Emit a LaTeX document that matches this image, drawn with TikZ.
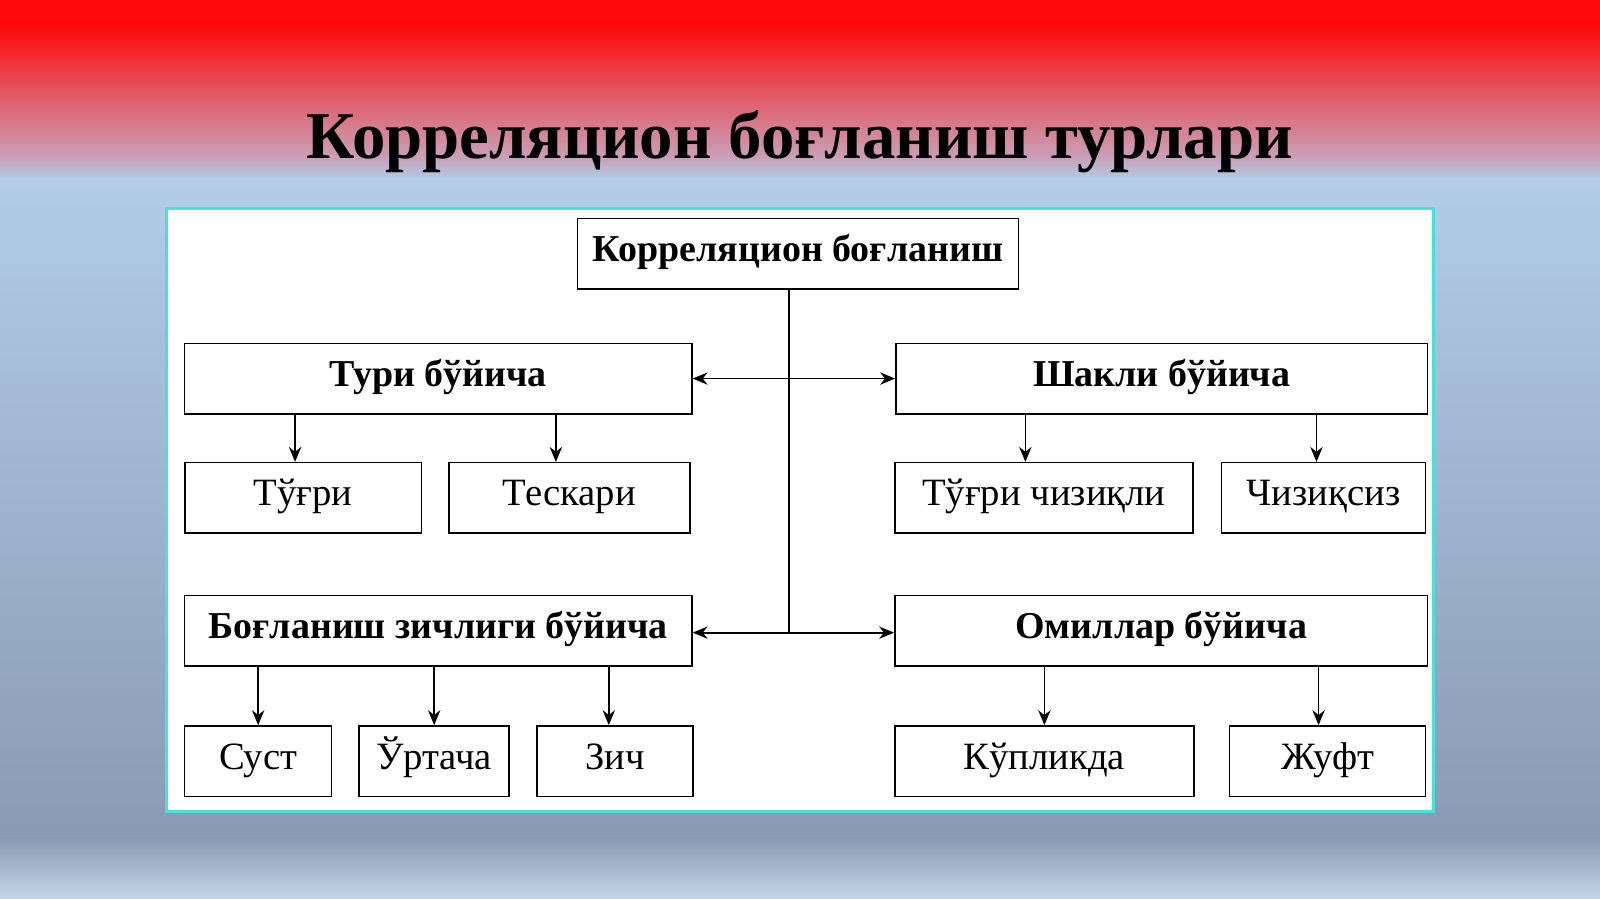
\documentclass[tikz,border=0pt]{standalone}
\usepackage{fontspec}
\setmainfont{Liberation Serif}
\usetikzlibrary{arrows.meta}
\definecolor{slidered}{HTML}{FF0A0A}
\definecolor{slidepink}{HTML}{C8A2BA}
\definecolor{slideblue}{HTML}{B2CCE8}
\definecolor{slidegrey}{HTML}{8A9AB2}
\definecolor{slidelight}{HTML}{C4D4E8}
\definecolor{panelrim}{HTML}{48E0D8}
\tikzset{
  box/.style={draw=black, line width=0.9pt, fill=white, minimum height=1.41cm, inner sep=0pt, text height=0.55cm, text depth=0.23cm, font=\fontsize{22}{25}\selectfont},
  headbox/.style={box, font=\fontsize{21.6}{25}\selectfont\bfseries},
  link/.style={line width=1pt, -{Stealth[length=8.5pt,width=7pt]}},
  biglink/.style={line width=1pt, {Stealth[length=8.5pt,width=7pt]}-{Stealth[length=8.5pt,width=7pt]}}
}
\begin{document}
\begin{tikzpicture}[x=0.020408cm, y=-0.020408cm]

% Background of the slide
\useasboundingbox (0,0) rectangle (1568,881);
\fill[slidered] (0,0) rectangle (1568,26);
\shade[top color=slidered, bottom color=slidepink] (0,25) rectangle (1568,156);
\shade[top color=slidepink, bottom color=slideblue] (0,155) rectangle (1568,176);
\shade[top color=slideblue, bottom color=slidegrey] (0,175) rectangle (1568,822);
\shade[top color=slidegrey, bottom color=slidelight] (0,821) rectangle (1568,881);

% Title
\node[font=\fontsize{38}{42}\selectfont\bfseries] (title) at (784,139) {Корреляцион боғланиш турлари};

% White panel
\draw[panelrim, line width=1.6pt, fill=white] (163,204) rectangle (1405,795);

% Top box
\node[headbox, minimum width=8.82cm] (root) at (782,248.5) {Корреляцион боғланиш};

% Second row
\node[headbox, minimum width=10.14cm] (turi) at (429.5,371) {Тури бўйича};
\node[headbox, minimum width=10.63cm] (shakli) at (1138.5,371) {Шакли бўйича};
\node[box, minimum width=4.73cm] (tugri) at (297,488) {Тўғри};
\node[box, minimum width=4.82cm] (teskari) at (558,488) {Тескари};
\node[box, minimum width=5.96cm] (chiziqli) at (1023,488) {Тўғри чизиқли};
\node[box, minimum width=4.08cm] (chiziqsiz) at (1297,488) {Чизиқсиз};

% Third row
\node[headbox, minimum width=10.14cm] (zichlik) at (429.5,618) {Боғланиш зичлиги бўйича};
\node[headbox, minimum width=10.65cm] (omillar) at (1138,618) {Омиллар бўйича};
\node[box, minimum width=2.94cm] (sust) at (253,746) {Суст};
\node[box, minimum width=3.0cm] (urtacha) at (425.5,746) {Ўртача};
\node[box, minimum width=3.12cm] (zich) at (602.5,746) {Зич};
\node[box, minimum width=5.98cm] (kuplikda) at (1023.5,746) {Кўпликда};
\node[box, minimum width=3.92cm] (juft) at (1301,746) {Жуфт};

% Trunk and the two cross arrows
\coordinate (top) at (773,283);
\coordinate (mid) at (773,371);
\coordinate (low) at (773,620);
\draw[line width=1pt] (top) -- (low);
\draw[biglink] (turi.east |- mid) -- (shakli.west |- mid);
\draw[biglink] (zichlik.east |- low) -- (omillar.west |- low);

% Arrows down to the small boxes
\draw[link] ([xshift=-0.16cm]tugri.north |- turi.south) -- ([xshift=-0.16cm]tugri.north);
\draw[link] ([xshift=-0.27cm]teskari.north |- turi.south) -- ([xshift=-0.27cm]teskari.north);
\draw[link] ([xshift=-0.37cm]chiziqli.north |- shakli.south) -- ([xshift=-0.37cm]chiziqli.north);
\draw[link] ([xshift=-0.14cm]chiziqsiz.north |- shakli.south) -- ([xshift=-0.14cm]chiziqsiz.north);
\draw[link] (sust.north |- zichlik.south) -- (sust.north);
\draw[link] (urtacha.north |- zichlik.south) -- (urtacha.north);
\draw[link] ([xshift=-0.12cm]zich.north |- zichlik.south) -- ([xshift=-0.12cm]zich.north);
\draw[link] (kuplikda.north |- omillar.south) -- (kuplikda.north);
\draw[link] ([xshift=-0.18cm]juft.north |- omillar.south) -- ([xshift=-0.18cm]juft.north);

\end{tikzpicture}
\end{document}
